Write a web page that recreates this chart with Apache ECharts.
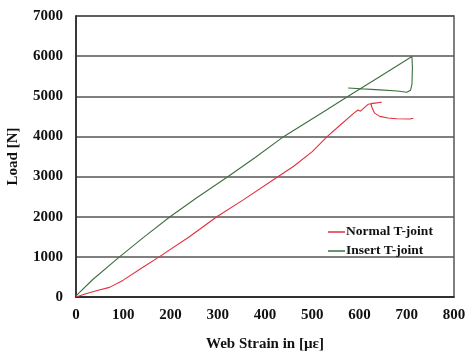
<!DOCTYPE html>
<html><head><meta charset="utf-8">
<script src="https://cdn.jsdelivr.net/npm/echarts@6/dist/echarts.min.js"></script>
<style>html,body{margin:0;padding:0;background:#fff}#c{width:474px;height:355px}</style>
</head><body><div id="c"></div>
<script>
const xTicks = [0,100,200,300,400,500,600,700,800];
const yTicks = [0,1000,2000,3000,4000,5000,6000,7000];
const normalStrain = [0,21,45,71,100,140,176,240,298,354,428,460,500,532,560,576,590,597,602,618,622,647,624,627,632,643,660,679,707,714];
const normalLoad   = [0,80,160,240,420,730,1000,1500,2000,2420,3000,3250,3620,4000,4290,4456,4600,4660,4630,4800,4835,4850,4820,4700,4580,4500,4460,4440,4435,4455];
const insertStrain = [0,35,92,145,199,254,322,380,440,485,530,576,640,711,712,711,708,700,680,643,576];
const insertLoad   = [30,430,1000,1505,2000,2460,3000,3480,4000,4330,4660,5000,5470,5990,5700,5300,5150,5100,5130,5160,5205];
const names = ['Normal T-joint','Insert T-joint'];

const font = 'Liberation Serif';
const chart = echarts.init(document.getElementById('c'), null, {renderer:'canvas'});
chart.setOption({
  animation:false,
  backgroundColor:'#fff',
  grid:{left:76,right:20,top:16,bottom:58,containLabel:false,outerBoundsMode:'none',
        show:true,borderColor:'#555',borderWidth:1.5},
  legend:{
    orient:'vertical', left:323, top:220, itemGap:5,
    itemWidth:17, itemHeight:1.5, icon:'rect',
    textStyle:{fontFamily:font,fontWeight:'bold',fontSize:13.5,color:'#111',padding:[0,0,0,-4]},
    data:names
  },
  xAxis:{
    type:'value', min:0, max:800, interval:100,
    name:'Web Strain in [µε]', nameLocation:'middle', nameGap:40,
    nameTextStyle:{fontFamily:font,fontWeight:'bold',fontSize:15,color:'#111'},
    axisLine:{show:true,lineStyle:{color:'#222',width:1.5}},
    axisTick:{show:false}, splitLine:{show:false},
    axisLabel:{fontFamily:font,fontWeight:'bold',fontSize:15,color:'#111',margin:11,
               formatter:v=>String(v)}
  },
  yAxis:{
    type:'value', min:0, max:7000, interval:1000,
    name:'Load [N]', nameLocation:'middle', nameGap:55, nameRotate:90,
    nameTextStyle:{fontFamily:font,fontWeight:'bold',fontSize:15,color:'#111'},
    axisLine:{show:true,lineStyle:{color:'#222',width:1.5}},
    axisTick:{show:false},
    splitLine:{show:true,lineStyle:{color:'#555',width:1.5}},
    axisLabel:{fontFamily:font,fontWeight:'bold',fontSize:15,color:'#111',margin:13,
               formatter:v=>String(v)}
  },
  series:[
    {name:names[0],type:'line',showSymbol:false,symbol:'none',smooth:false,
     lineStyle:{color:'#e0303c',width:1.1},itemStyle:{color:'#e0303c'},
     data:normalStrain.map((v,i)=>[v,normalLoad[i]])},
    {name:names[1],type:'line',showSymbol:false,symbol:'none',smooth:false,
     lineStyle:{color:'#3d7040',width:1.1},itemStyle:{color:'#3d7040'},
     data:insertStrain.map((v,i)=>[v,insertLoad[i]])}
  ]
});
</script></body></html>
